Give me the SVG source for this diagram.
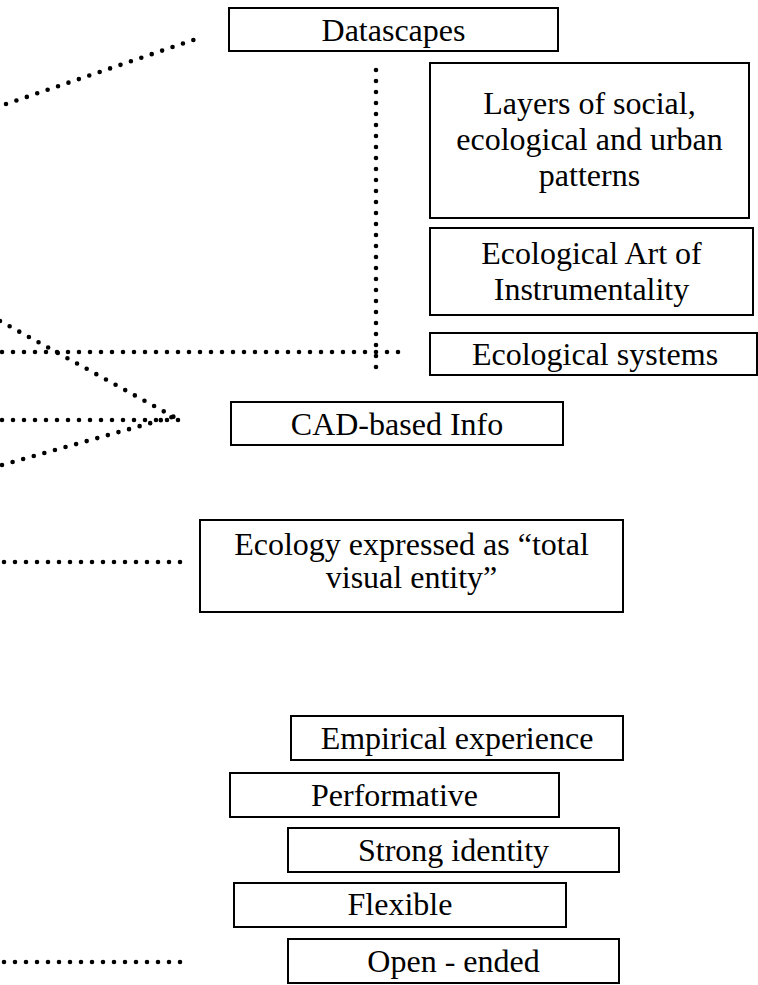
<svg xmlns="http://www.w3.org/2000/svg" width="758" height="985" viewBox="0 0 758 985">
<style>
.box{fill:#fff;stroke:#000;stroke-width:2}
.t{font-family:"Liberation Serif","Times New Roman",serif;font-size:32px;fill:#000;text-anchor:middle}
.dot{fill:none;stroke:#000;stroke-width:4.6;stroke-linecap:round;stroke-dasharray:0 11}
</style>
<rect width="758" height="985" fill="#fff"/>
<g id="connectors">
<line class="dot" x1="6" y1="104" x2="199" y2="38"/>
<line class="dot" x1="376" y1="70" x2="376" y2="371"/>
<line class="dot" x1="2" y1="352" x2="409" y2="352"/>
<line class="dot" x1="0" y1="321" x2="174" y2="417"/>
<line class="dot" x1="2" y1="420" x2="181" y2="420"/>
<line class="dot" x1="2" y1="465" x2="172" y2="417"/>
<line class="dot" x1="4" y1="562" x2="182" y2="562"/>
<line class="dot" x1="4" y1="962" x2="182" y2="962"/>
</g>
<g id="datascapes"><rect class="box" x="229" y="8" width="329" height="43"/><text class="t" x="393.5" y="41">Datascapes</text></g>
<g id="layers"><rect class="box" x="430" y="63" width="319" height="155"/><text class="t" x="589.5" y="114">Layers of social,</text><text class="t" x="589.5" y="150">ecological and urban</text><text class="t" x="589.5" y="186">patterns</text></g>
<g id="art"><rect class="box" x="430" y="228" width="323" height="87"/><text class="t" x="591.5" y="264">Ecological Art of</text><text class="t" x="591.5" y="300">Instrumentality</text></g>
<g id="ecosystems"><rect class="box" x="430" y="333" width="327" height="42"/><text class="t" x="595" y="365">Ecological systems</text></g>
<g id="cad"><rect class="box" x="231" y="402" width="332" height="43"/><text class="t" x="397" y="435">CAD-based Info</text></g>
<g id="ecology"><rect class="box" x="200" y="520" width="423" height="92"/><text class="t" x="411.5" y="555">Ecology expressed as “total</text><text class="t" x="411.5" y="588">visual entity”</text></g>
<g id="empirical"><rect class="box" x="291" y="716" width="332" height="44"/><text class="t" x="457" y="749">Empirical experience</text></g>
<g id="performative"><rect class="box" x="230" y="773" width="329" height="44"/><text class="t" x="394.5" y="806">Performative</text></g>
<g id="strong"><rect class="box" x="288" y="828" width="331" height="44"/><text class="t" x="453.5" y="861">Strong identity</text></g>
<g id="flexible"><rect class="box" x="234" y="883" width="332" height="44"/><text class="t" x="400" y="915">Flexible</text></g>
<g id="openended"><rect class="box" x="288" y="939" width="331" height="44"/><text class="t" x="453.5" y="972">Open - ended</text></g>
</svg>
